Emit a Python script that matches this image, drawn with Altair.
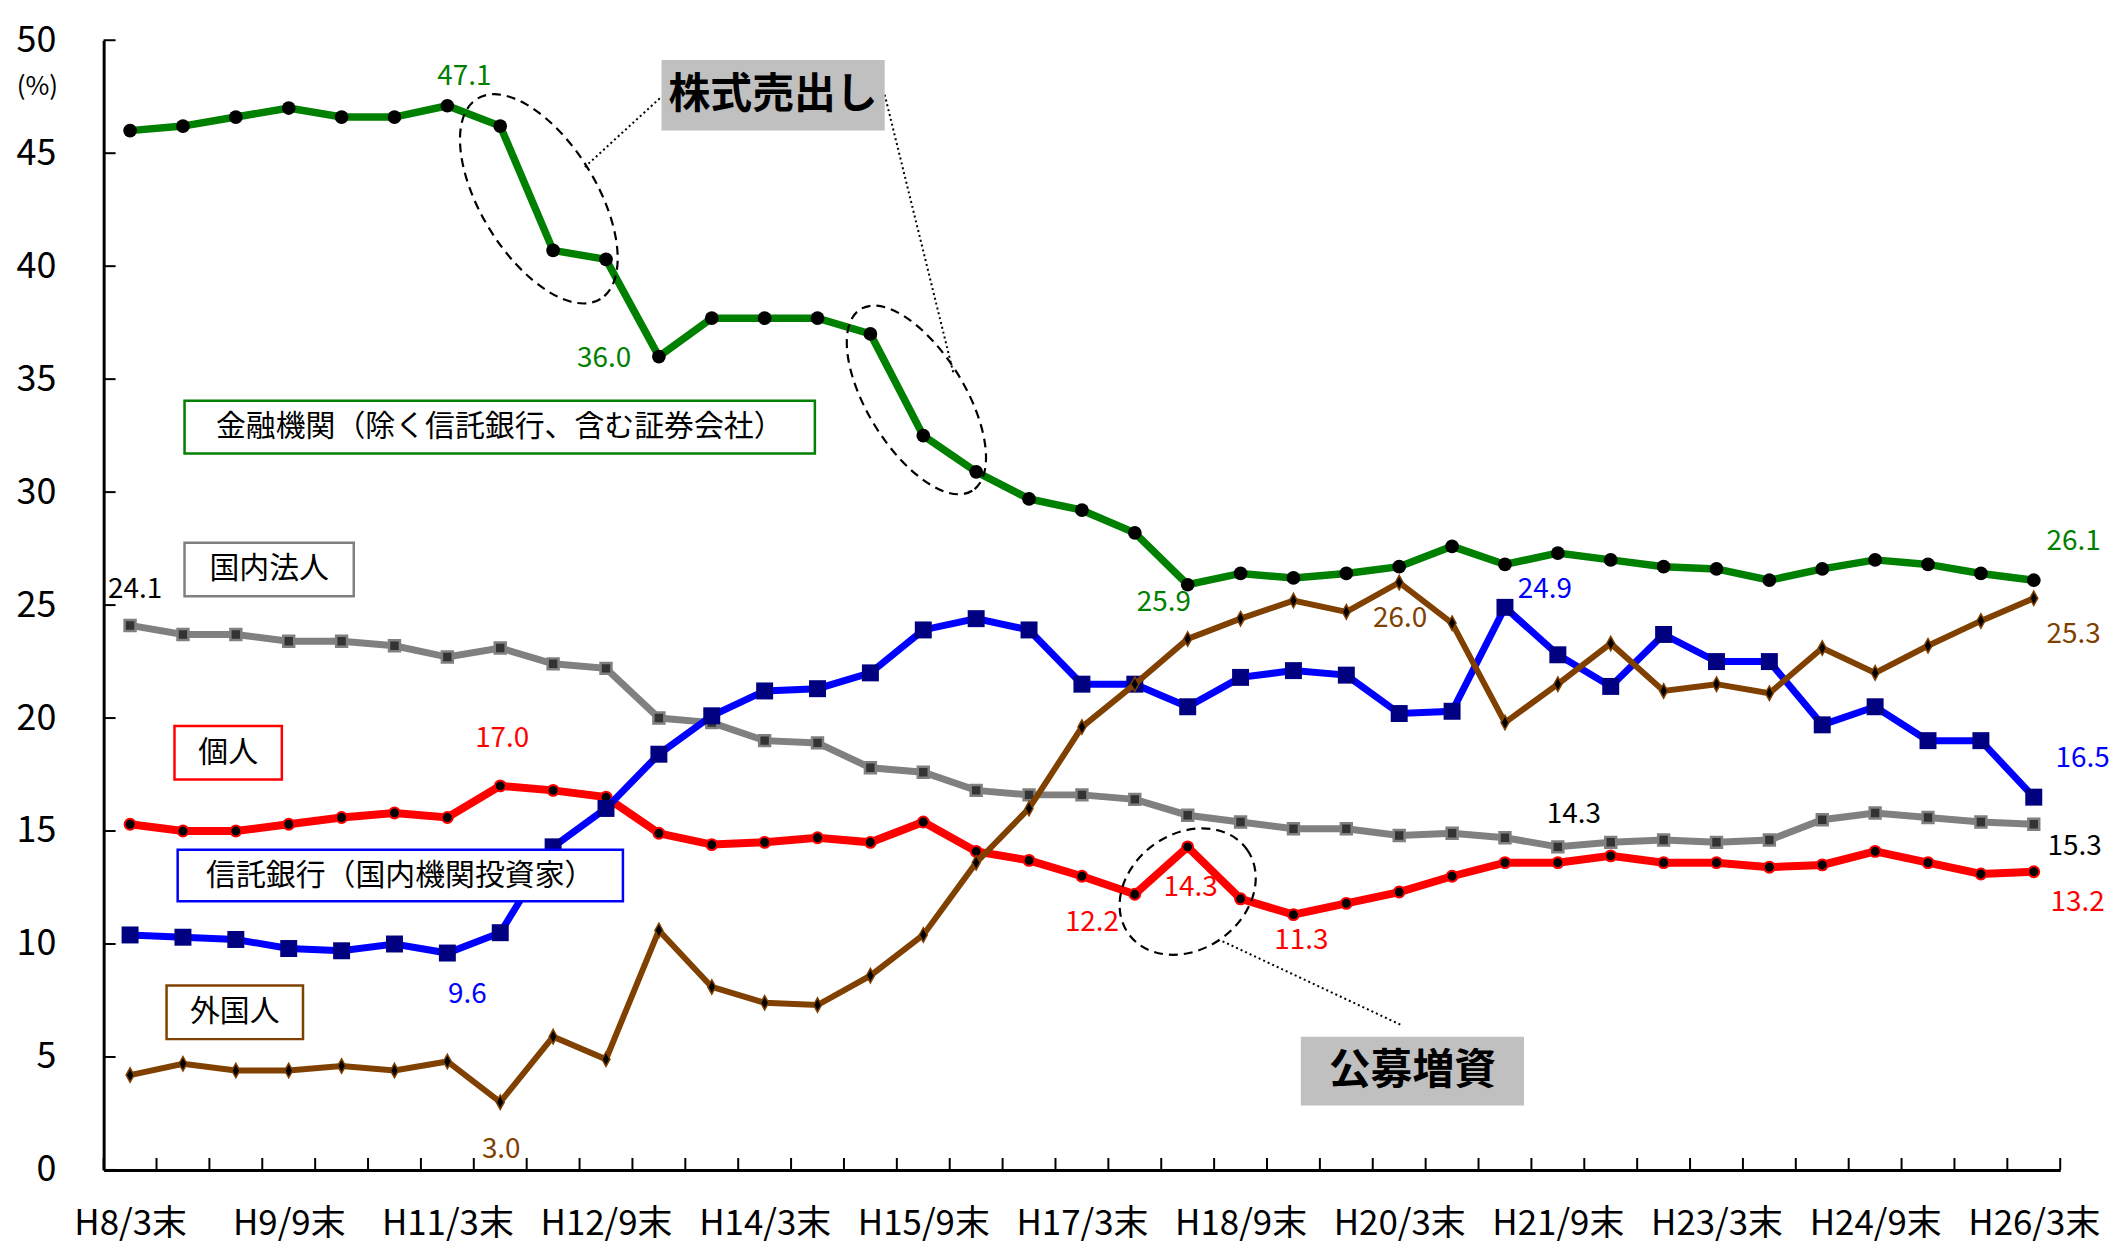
import altair as alt
import pandas as pd

FONT = "Noto Sans CJK JP"

periods = ["H8/3末", "H8/9末", "H9/3末", "H9/9末", "H10/3末", "H10/9末", "H11/3末", "H11/9末",
           "H12/3末", "H12/9末", "H13/3末", "H13/9末", "H14/3末", "H14/9末", "H15/3末", "H15/9末",
           "H16/3末", "H16/9末", "H17/3末", "H17/9末", "H18/3末", "H18/9末", "H19/3末", "H19/9末",
           "H20/3末", "H20/9末", "H21/3末", "H21/9末", "H22/3末", "H22/9末", "H23/3末", "H23/9末",
           "H24/3末", "H24/9末", "H25/3末", "H25/9末", "H26/3末"]
labelled_ticks = list(range(0, 37, 3))
y_ticks = list(range(0, 51, 5))

fin_name = "金融機関（除く信託銀行、含む証券会社）"
corp_name = "国内法人"
indiv_name = "個人"
trust_name = "信託銀行（国内機関投資家）"
foreign_name = "外国人"

financial = [46.0, 46.2, 46.6, 47.0, 46.6, 46.6, 47.1, 46.2, 40.7, 40.3, 36.0, 37.7, 37.7, 37.7,
             37.0, 32.5, 30.9, 29.7, 29.2, 28.2, 25.9, 26.4, 26.2, 26.4, 26.7, 27.6, 26.8, 27.3,
             27.0, 26.7, 26.6, 26.1, 26.6, 27.0, 26.8, 26.4, 26.1]
corporate = [24.1, 23.7, 23.7, 23.4, 23.4, 23.2, 22.7, 23.1, 22.4, 22.2, 20.0, 19.8, 19.0, 18.9,
             17.8, 17.6, 16.8, 16.6, 16.6, 16.4, 15.7, 15.4, 15.1, 15.1, 14.8, 14.9, 14.7, 14.3,
             14.5, 14.6, 14.5, 14.6, 15.5, 15.8, 15.6, 15.4, 15.3]
individual = [15.3, 15.0, 15.0, 15.3, 15.6, 15.8, 15.6, 17.0, 16.8, 16.5, 14.9, 14.4, 14.5, 14.7,
              14.5, 15.4, 14.1, 13.7, 13.0, 12.2, 14.3, 12.0, 11.3, 11.8, 12.3, 13.0, 13.6, 13.6,
              13.9, 13.6, 13.6, 13.4, 13.5, 14.1, 13.6, 13.1, 13.2]
trust = [10.4, 10.3, 10.2, 9.8, 9.7, 10.0, 9.6, 10.5, 14.3, 16.0, 18.4, 20.1, 21.2, 21.3, 22.0,
         23.9, 24.4, 23.9, 21.5, 21.5, 20.5, 21.8, 22.1, 21.9, 20.2, 20.3, 24.9, 22.8, 21.4, 23.7,
         22.5, 22.5, 19.7, 20.5, 19.0, 19.0, 16.5]
foreign = [4.2, 4.7, 4.4, 4.4, 4.6, 4.4, 4.8, 3.0, 5.9, 4.9, 10.6, 8.1, 7.4, 7.3, 8.6, 10.4, 13.6,
           16.0, 19.6, 21.5, 23.5, 24.4, 25.2, 24.7, 26.0, 24.2, 19.8, 21.5, 23.3, 21.2, 21.5, 21.1,
           23.1, 22.0, 23.2, 24.3, 25.3]

series_values = {fin_name: financial, corp_name: corporate, indiv_name: individual,
                 trust_name: trust, foreign_name: foreign}

GREEN, GRAY, RED, BLUE, NAVY, BROWN = "#008000", "#808080", "#ff0000", "#0000ff", "#000080", "#804000"

rows = []
for name, vals in series_values.items():
    for i, v in enumerate(vals):
        rows.append({"series": name, "idx": i, "period": periods[i], "value": v})
df = pd.DataFrame(rows)

W, H = 1964, 1134
xscale = alt.Scale(domain=[-0.5, 36.5], nice=False, zero=False)
yscale = alt.Scale(domain=[0, 50], nice=False, zero=True)

label_array = "[" + ",".join("'" + p + "'" for p in periods) + "]"
xaxis = alt.Axis(values=labelled_ticks, labelExpr=label_array + "[datum.value]", ticks=False,
                 grid=False, domainColor="black", domainWidth=3, labelFont=FONT, labelFontSize=35,
                 labelColor="black", labelPadding=37, labelFlush=False, labelAngle=0, title=None)
yaxis = alt.Axis(values=y_ticks, ticks=False, grid=False, domainColor="black", domainWidth=3,
                 labelFont=FONT, labelFontSize=36, labelColor="black", labelPadding=48,
                 title="(%)", titleAngle=0, titleX=-67, titleY=46, titleFont=FONT,
                 titleFontSize=26, titleFontWeight="normal", titleAlign="center",
                 titleBaseline="middle", titleColor="black")


def X(field="idx"):
    return alt.X(f"{field}:Q", scale=xscale, axis=xaxis)


def Y(field="value"):
    return alt.Y(f"{field}:Q", scale=yscale, axis=yaxis)


layers = []

xt = pd.DataFrame({"pos": [i - 0.5 for i in range(38)]})
layers.append(alt.Chart(xt).mark_rule(color="black", strokeWidth=2).encode(
    x=X("pos"), y=alt.value(H), y2=alt.value(H - 12)))
yt = pd.DataFrame({"v": y_ticks})
layers.append(alt.Chart(yt).mark_rule(color="black", strokeWidth=2).encode(
    y=Y("v"), x=alt.value(0), x2=alt.value(12)))

diamond = "M 0 -1 L 0.55 0 L 0 1 L -0.55 0 Z"
styles = [
    (corp_name, GRAY, 7, dict(shape="square", size=120, filled=True, fill="#333333",
                              stroke=GRAY, strokeWidth=2.5, opacity=1)),
    (indiv_name, RED, 8, dict(shape="circle", size=120, filled=True, fill="black",
                              stroke=RED, strokeWidth=2, opacity=1)),
    (trust_name, BLUE, 7, dict(shape="square", size=290, filled=True, fill=NAVY,
                               strokeWidth=0, opacity=1)),
    (foreign_name, BROWN, 6, dict(shape=diamond, size=210, filled=True, fill="black",
                                  stroke=BROWN, strokeWidth=1.5, opacity=1)),
    (fin_name, GREEN, 7.5, dict(shape="circle", size=190, filled=True, fill="black",
                                strokeWidth=0, opacity=1)),
]
for name, color, width, pkw in styles:
    d = df[df.series == name]
    layers.append(alt.Chart(d).mark_line(color=color, strokeWidth=width).encode(x=X(), y=Y()))
    layers.append(alt.Chart(d).mark_point(**pkw).encode(x=X(), y=Y()))

# legend boxes
boxes = pd.DataFrame([
    {"label": fin_name, "x1": 1.03, "x2": 12.95, "y1": 34.04, "y2": 31.71, "c": GREEN},
    {"label": corp_name, "x1": 1.03, "x2": 4.23, "y1": 27.76, "y2": 25.39, "c": GRAY},
    {"label": indiv_name, "x1": 0.84, "x2": 2.87, "y1": 19.65, "y2": 17.28, "c": RED},
    {"label": trust_name, "x1": 0.90, "x2": 9.32, "y1": 14.17, "y2": 11.89, "c": BLUE},
    {"label": foreign_name, "x1": 0.69, "x2": 3.27, "y1": 8.16, "y2": 5.79, "c": BROWN},
])
boxes["xm"] = (boxes.x1 + boxes.x2) / 2
boxes["ym"] = (boxes.y1 + boxes.y2) / 2
for _, b in boxes.iterrows():
    bd = pd.DataFrame([b.to_dict()])
    layers.append(alt.Chart(bd).mark_rect(fill="white", stroke=b["c"], strokeWidth=2.5).encode(
        x=X("x1"), x2="x2", y=Y("y1"), y2="y2"))
    layers.append(alt.Chart(bd).mark_text(font=FONT, fontSize=30, color="black",
                                          align="center", baseline="middle").encode(
        x=X("xm"), y=Y("ym"), text="label:N"))


# dashed ellipses
def ellipse_path(r):
    k = 0.5523
    return (f"M 1 0 C 1 {k*r:.4f} {k:.4f} {r:.4f} 0 {r:.4f} "
            f"C {-k:.4f} {r:.4f} -1 {k*r:.4f} -1 0 "
            f"C -1 {-k*r:.4f} {-k:.4f} {-r:.4f} 0 {-r:.4f} "
            f"C {k:.4f} {-r:.4f} 1 {-k*r:.4f} 1 0 Z")


ellipses = [
    {"idx": 7.73, "value": 42.98, "a": 118, "b": 58, "angle": 58.4},
    {"idx": 14.87, "value": 34.08, "a": 107, "b": 49, "angle": 58.4},
    {"idx": 20.0, "value": 12.32, "a": 73, "b": 58, "angle": 324.5},
]
for e in ellipses:
    ed = pd.DataFrame([{"idx": e["idx"], "value": e["value"]}])
    layers.append(alt.Chart(ed).mark_point(
        shape=ellipse_path(e["b"] / e["a"]), size=(2 * e["a"]) ** 2, angle=e["angle"],
        filled=False, stroke="black", strokeWidth=2.2, strokeDash=[9, 6], opacity=1).encode(
        x=X(), y=Y()))

# dotted leaders
leaders = pd.DataFrame([
    {"x1": 8.60, "y1": 44.39, "x2": 10.05, "y2": 47.5},
    {"x1": 14.27, "y1": 47.59, "x2": 15.57, "y2": 35.26},
    {"x1": 20.66, "y1": 10.12, "x2": 24.05, "y2": 6.40},
])
layers.append(alt.Chart(leaders).mark_rule(color="black", strokeWidth=2, strokeDash=[2, 3]).encode(
    x=X("x1"), y=Y("y1"), x2="x2", y2="y2"))

# grey annotation boxes
notes = pd.DataFrame([
    {"label": "株式売出し", "x1": 10.05, "x2": 14.27, "y1": 49.12, "y2": 46.01},
    {"label": "公募増資", "x1": 22.14, "x2": 26.36, "y1": 5.9, "y2": 2.85},
])
notes["xm"] = (notes.x1 + notes.x2) / 2
notes["ym"] = (notes.y1 + notes.y2) / 2
layers.append(alt.Chart(notes).mark_rect(fill="#c0c0c0").encode(
    x=X("x1"), x2="x2", y=Y("y1"), y2="y2"))
layers.append(alt.Chart(notes).mark_text(font=FONT, fontSize=42, fontWeight="bold", color="black",
                                         align="center", baseline="middle").encode(
    x=X("xm"), y=Y("ym"), text="label:N"))

# data labels
labels = [
    (fin_name, 6, 17, -29, GREEN), (fin_name, 10, -55, 2, GREEN), (fin_name, 20, -24, 18, GREEN),
    (fin_name, 36, 40, -38, GREEN),
    (corp_name, 0, 5, -36, "black"), (corp_name, 27, 16, -32, "black"), (corp_name, 36, 41, 23, "black"),
    (indiv_name, 7, 2, -47, RED), (indiv_name, 19, -43, 29, RED), (indiv_name, 20, 3, 41, RED),
    (indiv_name, 22, 8, 27, RED), (indiv_name, 36, 44, 31, RED),
    (trust_name, 6, 20, 42, BLUE), (trust_name, 26, 40, -17, BLUE), (trust_name, 36, 49, -38, BLUE),
    (foreign_name, 7, 1, 48, BROWN), (foreign_name, 24, 1, 37, BROWN), (foreign_name, 36, 40, 37, BROWN),
]
for name, i, dx, dy, color in labels:
    ld = df[(df.series == name) & (df.idx == i)]
    layers.append(alt.Chart(ld).mark_text(font=FONT, fontSize=28, color=color, dx=dx, dy=dy,
                                          align="center", baseline="middle").encode(
        x=X(), y=Y(), text=alt.Text("value:Q", format=".1f")))

chart = alt.layer(*layers).properties(
    width=W, height=H,
    padding={"left": 96, "top": 30, "right": 55, "bottom": 77},
    autosize=alt.AutoSizeParams(type="none"),
    background="white",
).configure_view(stroke=None)

chart.save("out.html", embed_options={"renderer": "svg", "actions": False})
